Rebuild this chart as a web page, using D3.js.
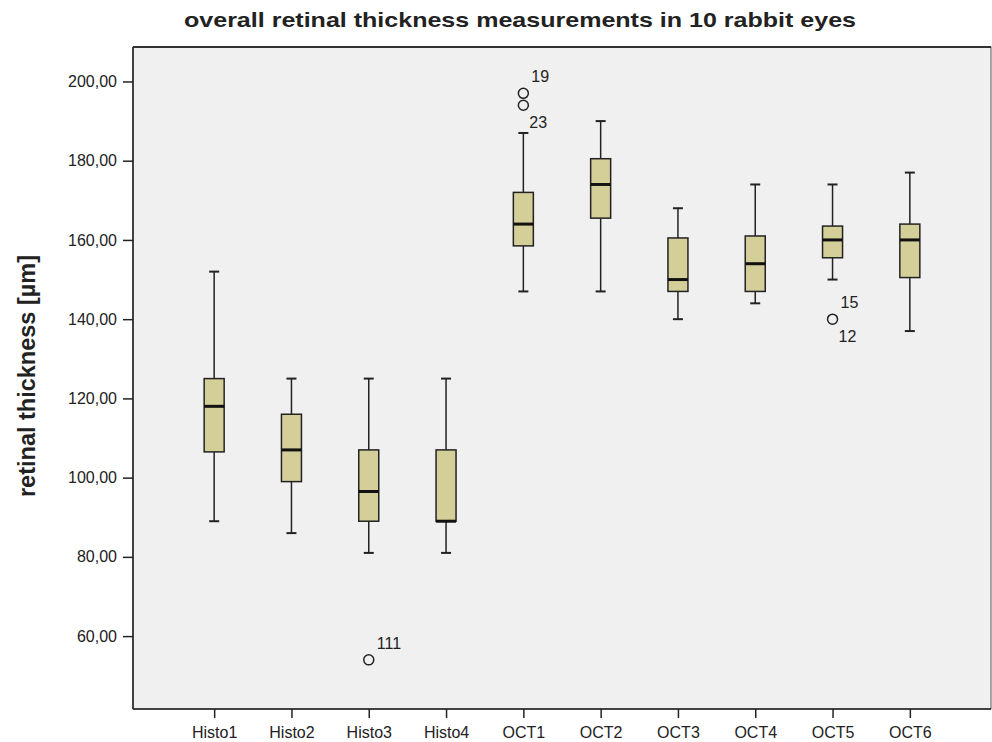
<!DOCTYPE html>
<html>
<head>
<meta charset="utf-8">
<script src="https://cdn.jsdelivr.net/npm/d3@7"></script>
<style>
  body { margin: 0; background: #ffffff; }
  text { font-family: "Liberation Sans", Arial, sans-serif; fill: #222; }
  .chart-title { font-size: 21px; font-weight: bold; }
  .axis-title { font-size: 23.5px; font-weight: bold; }
  .tick-label { font-size: 16px; }
  .case-label { font-size: 16px; }
</style>
</head>
<body>
<div id="retinal-boxplot"></div>
<script>
(function () {
    // Groups on the x axis
    const groups = ["Histo1", "Histo2", "Histo3", "Histo4", "OCT1", "OCT2", "OCT3", "OCT4", "OCT5", "OCT6"];

    // Box statistics (µm)
    const whiskerLow  = [89,    86,  81,   81,  147,   147,   140,   144, 150,   137];
    const q1          = [106.5, 99,  89,   89,  158.5, 165.5, 147,   147, 155.5, 150.5];
    const median      = [118,   107, 96.5, 89,  164,   174,   150,   154, 160,   160];
    const q3          = [125,   116, 107,  107, 172,   180.5, 160.5, 161, 163.5, 164];
    const whiskerHigh = [152,   125, 125,  125, 187,   190,   168,   174, 174,   177];

    // Outliers with their case numbers (label above / below the circle)
    const outlierGroup = ["Histo3", "OCT1", "OCT1", "OCT5"];
    const outlierValue = [54,       197,    194,    140];
    const outlierAbove = ["111",    "19",   "",     "15"];
    const outlierBelow = ["",       "",     "23",   "12"];

    // y axis ticks
    const yTicks = [60, 80, 100, 120, 140, 160, 180, 200];

    const width = 992;
    const height = 742;
    const plot = { left: 133, right: 991, top: 47, bottom: 709 };

    const svg = d3.select("#retinal-boxplot")
        .append("svg")
        .attr("width", width)
        .attr("height", height);

    // Scales
    const x = d3.scalePoint()
        .domain(groups)
        .range([plot.left, plot.right])
        .padding(1.05);

    const y = d3.scaleLinear()
        .domain([41.6, 208.7])
        .range([plot.bottom, plot.top]);

    // Plot background
    svg.append("rect")
        .attr("x", plot.left)
        .attr("y", plot.top)
        .attr("width", plot.right - plot.left)
        .attr("height", plot.bottom - plot.top)
        .attr("fill", "#f0f0f0")
        .attr("stroke", "#555")
        .attr("stroke-width", 1);

    // Title (the original is rendered a little wide)
    svg.append("text")
        .attr("class", "chart-title")
        .attr("x", 520)
        .attr("y", 27)
        .attr("text-anchor", "middle")
        .attr("textLength", 672)
        .attr("lengthAdjust", "spacingAndGlyphs")
        .text("overall retinal thickness measurements in 10 rabbit eyes");

    // Y axis
    const yAxis = d3.axisLeft(y)
        .tickValues(yTicks)
        .tickSize(10)
        .tickPadding(6)
        .tickFormat((d) => d3.format(".2f")(d).replace(".", ","));

    const yAxisGroup = svg.append("g")
        .attr("transform", `translate(${plot.left},0)`)
        .call(yAxis);
    yAxisGroup.select(".domain").remove();
    yAxisGroup.selectAll(".tick line").attr("stroke", "#222").attr("stroke-width", 1.5);
    yAxisGroup.selectAll(".tick text").attr("class", "tick-label").attr("font-family", null).attr("font-size", null);

    // X axis
    const xAxis = d3.axisBottom(x)
        .tickSize(9)
        .tickPadding(11);

    const xAxisGroup = svg.append("g")
        .attr("transform", `translate(0,${plot.bottom})`)
        .call(xAxis);
    xAxisGroup.select(".domain").remove();
    xAxisGroup.selectAll(".tick line").attr("stroke", "#222").attr("stroke-width", 1.5);
    xAxisGroup.selectAll(".tick text").attr("class", "tick-label").attr("font-family", null).attr("font-size", null)
        .attr("dy", "0.55em");

    // Axis lines (left and bottom, drawn darker)
    svg.append("line")
        .attr("x1", plot.left).attr("x2", plot.left)
        .attr("y1", plot.top).attr("y2", plot.bottom)
        .attr("stroke", "#222").attr("stroke-width", 1.5);
    svg.append("line")
        .attr("x1", plot.left).attr("x2", plot.right)
        .attr("y1", plot.bottom).attr("y2", plot.bottom)
        .attr("stroke", "#222").attr("stroke-width", 1.5);
    svg.append("line")
        .attr("x1", plot.left).attr("x2", plot.right)
        .attr("y1", plot.top).attr("y2", plot.top)
        .attr("stroke", "#333").attr("stroke-width", 2);

    // Y axis title
    svg.append("text")
        .attr("class", "axis-title")
        .attr("transform", `translate(35, 376) rotate(-90)`)
        .attr("text-anchor", "middle")
        .text("retinal thickness [µm]");

    // Box data
    const boxes = groups.map((g, i) => ({
        group: g,
        lo: whiskerLow[i],
        q1: q1[i],
        med: median[i],
        q3: q3[i],
        hi: whiskerHigh[i],
    }));

    const boxWidth = 20;
    const capWidth = 10;

    const boxG = svg.append("g")
        .selectAll("g.box")
        .data(boxes)
        .enter()
        .append("g")
        .attr("class", "box")
        .attr("transform", (d) => `translate(${x(d.group)},0)`);

    // Whiskers
    boxG.append("line")
        .attr("x1", 0).attr("x2", 0)
        .attr("y1", (d) => y(d.hi)).attr("y2", (d) => y(d.q3))
        .attr("stroke", "#222").attr("stroke-width", 1.5);
    boxG.append("line")
        .attr("x1", 0).attr("x2", 0)
        .attr("y1", (d) => y(d.q1)).attr("y2", (d) => y(d.lo))
        .attr("stroke", "#222").attr("stroke-width", 1.5);

    // Caps
    boxG.append("line")
        .attr("x1", -capWidth / 2).attr("x2", capWidth / 2)
        .attr("y1", (d) => y(d.hi)).attr("y2", (d) => y(d.hi))
        .attr("stroke", "#222").attr("stroke-width", 2);
    boxG.append("line")
        .attr("x1", -capWidth / 2).attr("x2", capWidth / 2)
        .attr("y1", (d) => y(d.lo)).attr("y2", (d) => y(d.lo))
        .attr("stroke", "#222").attr("stroke-width", 2);

    // Box
    boxG.append("rect")
        .attr("x", -boxWidth / 2)
        .attr("width", boxWidth)
        .attr("y", (d) => y(d.q3))
        .attr("height", (d) => y(d.q1) - y(d.q3))
        .attr("fill", "#d4cf99")
        .attr("stroke", "#222")
        .attr("stroke-width", 1.5);

    // Median
    boxG.append("line")
        .attr("x1", -boxWidth / 2).attr("x2", boxWidth / 2)
        .attr("y1", (d) => y(d.med)).attr("y2", (d) => y(d.med))
        .attr("stroke", "#111").attr("stroke-width", 3);

    // Outliers
    const outliers = outlierGroup.map((g, i) => ({
        group: g,
        value: outlierValue[i],
        above: outlierAbove[i],
        below: outlierBelow[i],
    }));

    const outG = svg.append("g")
        .selectAll("g.outlier")
        .data(outliers)
        .enter()
        .append("g")
        .attr("class", "outlier")
        .attr("transform", (d) => `translate(${x(d.group)},${y(d.value)})`);

    outG.append("circle")
        .attr("r", 5)
        .attr("fill", "none")
        .attr("stroke", "#222")
        .attr("stroke-width", 1.5);

    outG.append("text")
        .attr("class", "case-label")
        .attr("x", 8)
        .attr("y", -11)
        .text((d) => d.above);

    outG.append("text")
        .attr("class", "case-label")
        .attr("x", 6)
        .attr("y", 23)
        .text((d) => d.below);
})();
</script>
</body>
</html>
